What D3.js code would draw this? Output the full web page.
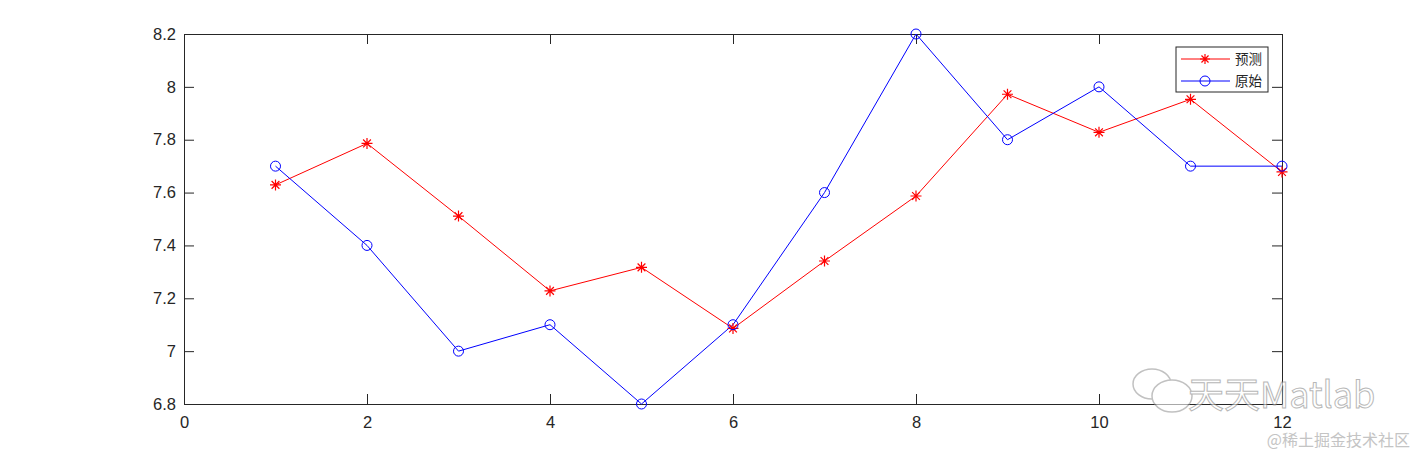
<!DOCTYPE html>
<html>
<head>
<meta charset="utf-8">
<script src="https://cdn.jsdelivr.net/npm/d3@7"></script>
<style>
  body { margin: 0; background: #fff; }
  svg { display: block; }
  text { font-family: "Liberation Sans", Arial, sans-serif; }
</style>
</head>
<body>
<div id="chart"></div>
<script>
// data
var xs = [1, 2, 3, 4, 5, 6, 7, 8, 9, 10, 11, 12]
var predicted = [7.629, 7.786, 7.511, 7.228, 7.317, 7.086, 7.341, 7.587, 7.972, 7.828, 7.953, 7.678]
var original = [7.7, 7.4, 7.0, 7.1, 6.8, 7.1, 7.6, 8.2, 7.8, 8.0, 7.7, 7.7]
var xTicks = [0, 2, 4, 6, 8, 10, 12]
var yTicks = [6.8, 7, 7.2, 7.4, 7.6, 7.8, 8, 8.2]
var seriesNames = ["预测", "原始"]

var W = 1417, H = 455
var pLeft = 184, pRight = 1282, pTop = 34, pBottom = 404

var svg = d3.select("#chart").append("svg")
    .attr("width", W).attr("height", H)

var x = d3.scaleLinear().domain([0, 12]).range([pLeft, pRight])
var y = d3.scaleLinear().domain([6.8, 8.2]).range([pBottom, pTop])

var fmt = d => (d === 7 || d === 8) ? String(d) : d3.format(".1f")(d)

// axes, matlab style: ticks inward, box on
function styleAxis(g) {
    g.selectAll(".domain").attr("stroke", "#262626")
    g.selectAll(".tick line").attr("stroke", "#262626")
    g.selectAll(".tick text").attr("fill", "#262626").style("font-size", "16.5px")
}

svg.append("g")
    .attr("transform", `translate(0,${pBottom})`)
    .call(d3.axisBottom(x).tickValues(xTicks).tickSizeInner(-10).tickSizeOuter(0).tickPadding(12))
    .call(styleAxis)

svg.append("g")
    .attr("transform", `translate(${pLeft},0)`)
    .call(d3.axisLeft(y).tickValues(yTicks).tickFormat(fmt).tickSizeInner(-10).tickSizeOuter(0).tickPadding(8))
    .call(styleAxis)

svg.append("g")
    .attr("transform", `translate(0,${pTop})`)
    .call(d3.axisTop(x).tickValues(xTicks).tickSizeInner(-10).tickSizeOuter(0).tickFormat(""))
    .call(styleAxis)

svg.append("g")
    .attr("transform", `translate(${pRight},0)`)
    .call(d3.axisRight(y).tickValues(yTicks).tickSizeInner(-10).tickSizeOuter(0).tickFormat(""))
    .call(styleAxis)

var line = d3.line().x((d, i) => x(xs[i])).y(d => y(d))

// asterisk marker
function star(g, cx, cy, r, color) {
    var p = ""
    for (var k = 0; k < 4; k++) {
        var a = k * Math.PI / 4
        p += `M${cx - r * Math.cos(a)},${cy - r * Math.sin(a)}L${cx + r * Math.cos(a)},${cy + r * Math.sin(a)}`
    }
    g.append("path").attr("d", p).attr("stroke", color).attr("stroke-width", 1.2).attr("fill", "none")
}

var red = "#ff0000", blue = "#0000ff"

svg.append("path").datum(predicted)
    .attr("d", line).attr("fill", "none").attr("stroke", red).attr("stroke-width", 1)

svg.append("path").datum(original)
    .attr("d", line).attr("fill", "none").attr("stroke", blue).attr("stroke-width", 1)

var gStars = svg.append("g")
predicted.forEach((d, i) => star(gStars, x(xs[i]), y(d), 5.5, red))

svg.append("g").selectAll("circle")
    .data(original)
    .enter()
    .append("circle")
    .attr("cx", (d, i) => x(xs[i]))
    .attr("cy", d => y(d))
    .attr("r", 5)
    .attr("fill", "none")
    .attr("stroke", blue)
    .attr("stroke-width", 1)

// legend
var lg = svg.append("g")
lg.append("rect")
    .attr("x", 1176).attr("y", 47).attr("width", 92).attr("height", 45)
    .attr("fill", "#fff").attr("stroke", "#262626").attr("stroke-width", 1)
var rows = [59, 81]
seriesNames.forEach((name, i) => {
    var c = i === 0 ? red : blue
    lg.append("line").attr("x1", 1181).attr("x2", 1230).attr("y1", rows[i]).attr("y2", rows[i])
        .attr("stroke", c).attr("stroke-width", 1)
    if (i === 0) star(lg, 1205, rows[i], 5, red)
    else lg.append("circle").attr("cx", 1205).attr("cy", rows[i]).attr("r", 5)
        .attr("fill", "none").attr("stroke", blue)
    lg.append("text").attr("x", 1235).attr("y", rows[i]).attr("dy", "0.35em")
        .style("font-family", "'Noto Sans CJK SC', sans-serif").style("font-size", "13.5px")
        .attr("fill", "#262626").text(name)
})

// watermark
var wm = svg.append("g").attr("opacity", 0.6)
function bubble(cx, cy, rx, ry) {
    wm.append("ellipse").attr("cx", cx).attr("cy", cy).attr("rx", rx).attr("ry", ry)
        .attr("fill", "#fff").attr("stroke", "#999").attr("stroke-width", 1.5)
}
bubble(1152, 384, 19, 15)
bubble(1172, 396, 20, 16)
wm.append("text").attr("x", 1188).attr("y", 408)
    .style("font-family", "'Noto Sans CJK SC', sans-serif").style("font-size", "36px")
    .attr("fill", "#fff").attr("stroke", "#888").attr("stroke-width", 1)
    .text("天天Matlab")
svg.append("text").attr("x", 1410).attr("y", 446).attr("text-anchor", "end")
    .style("font-family", "'Noto Sans CJK SC', sans-serif").style("font-size", "16px")
    .attr("fill", "#c4c4c4").text("@稀土掘金技术社区")
</script>
</body>
</html>
